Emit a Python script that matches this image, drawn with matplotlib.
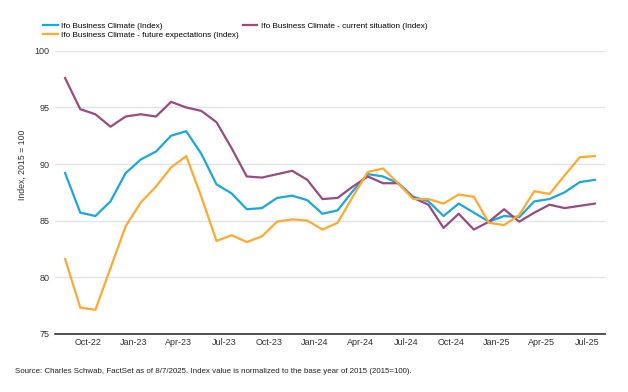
import numpy as np
import pandas as pd
import matplotlib
matplotlib.use("Agg")
import matplotlib.pyplot as plt

plt.rcParams['font.family'] = ['Liberation Sans', 'DejaVu Sans']

# monthly readings, Aug-22 .. Jul-25
months = pd.date_range("2022-08-01", "2025-07-01", freq="MS")

climate = [89.2, 85.7, 85.4, 86.7, 89.2, 90.4, 91.1, 92.5, 92.9, 90.9, 88.2, 87.4,
           86.0, 86.1, 87.0, 87.2, 86.8, 85.6, 85.9, 87.6, 89.1, 88.9, 88.3, 87.1,
           86.7, 85.4, 86.5, 85.7, 84.9, 85.4, 85.3, 86.7, 86.9, 87.5, 88.4, 88.6]

expectations = [81.6, 77.3, 77.1, 80.8, 84.5, 86.6, 88.0, 89.7, 90.7, 87.1, 83.2, 83.7,
                83.1, 83.6, 84.9, 85.1, 85.0, 84.2, 84.8, 87.1, 89.3, 89.6, 88.3, 86.9,
                86.9, 86.5, 87.3, 87.1, 84.8, 84.6, 85.5, 87.6, 87.35, 89.0, 90.6, 90.7]

current = [97.6, 94.85, 94.4, 93.3, 94.2, 94.4, 94.2, 95.5, 95.0, 94.7, 93.7, 91.4,
           88.9, 88.8, 89.1, 89.4, 88.6, 86.9, 87.0, 88.0, 88.9, 88.3, 88.3, 87.0,
           86.4, 84.35, 85.6, 84.2, 84.9, 86.0, 84.9, 85.7, 86.4, 86.1, 86.3, 86.5]

tick_labels = [m.strftime("%b-%y") for m in months][2::3]

x = np.arange(len(months))

fig = plt.figure(figsize=(6.28, 3.92), dpi=100)
ax = fig.add_axes([0.088, 0.149, 0.875, 0.721])

l1, = ax.plot(x, climate, color='#1ba6e1', lw=1.6, label='Ifo Business Climate (Index)')
l2, = ax.plot(x, current, color='#984b80', lw=1.6, label='Ifo Business Climate - current situation (Index)')
l3, = ax.plot(x, expectations, color='#ffa930', lw=1.6, label='Ifo Business Climate - future expectations (Index)')

ax.set_ylim(75, 100)
ax.set_xlim(-0.65, len(months) - 0.35)
ax.set_yticks([75, 80, 85, 90, 95, 100])
ax.set_xticks(x[2::3] - 0.5)
ax.set_xticklabels(tick_labels)
ax.tick_params(axis='both', length=0, labelsize=6.5, colors='#333333', pad=3)
ax.tick_params(axis='y', pad=4)

ax.grid(axis='y', color='#dfe4ec', lw=1)
ax.set_axisbelow(True)
for s in ['top', 'right', 'left']:
    ax.spines[s].set_visible(False)
ax.spines['bottom'].set_color('#333333')
ax.spines['bottom'].set_linewidth(1.2)

ax.set_ylabel('Index, 2015 = 100', fontsize=6.3, color='#333333')
ax.yaxis.set_label_coords(-0.051, 0.596)

fig.legend(handles=[l1, l3, l2], ncol=2, loc='upper left', bbox_to_anchor=(0.063, 0.952),
           frameon=False, fontsize=5.9, handlelength=1.8, handletextpad=0.4,
           columnspacing=0.5, labelspacing=0.12, borderaxespad=0)

fig.text(0.024, 0.048, 'Source: Charles Schwab, FactSet as of 8/7/2025. Index value is normalized '
         'to the base year of 2015 (2015=100).', fontsize=5.7, color='#222222')

fig.savefig('out.png', dpi=100)
